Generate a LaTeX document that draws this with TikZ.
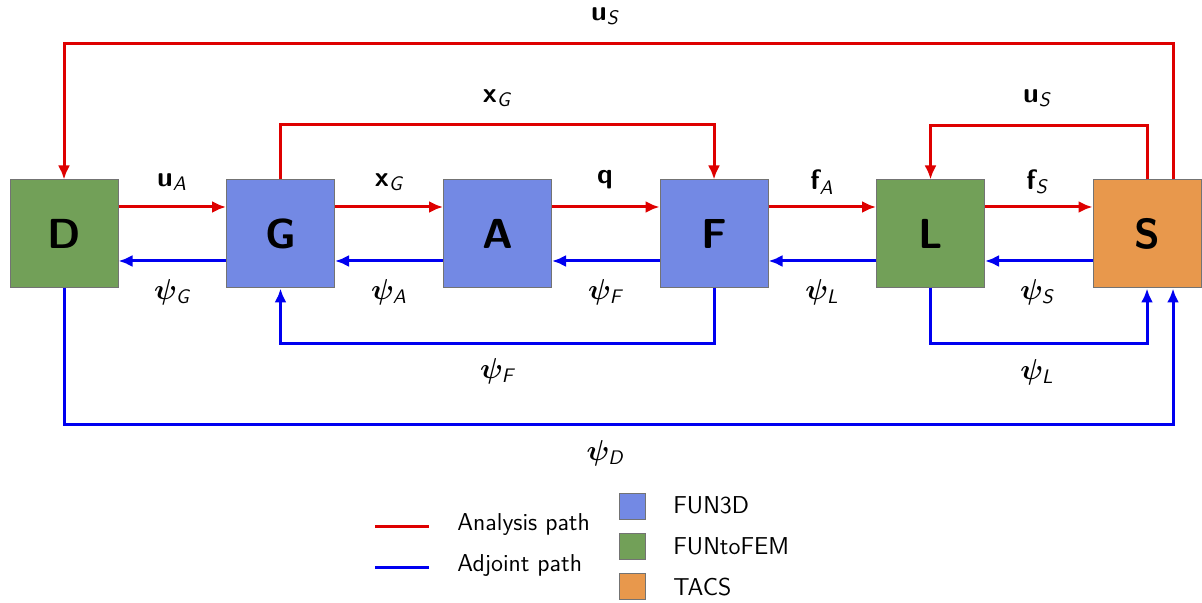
\documentclass[tikz,border=0pt]{standalone}
\usepackage{amsmath,bm}
\usetikzlibrary{arrows.meta,calc}
\definecolor{ared}{RGB}{222,0,0}
\definecolor{ablue}{RGB}{0,0,240}
\definecolor{cfun}{RGB}{115,137,228}
\definecolor{cf2f}{RGB}{114,160,88}
\definecolor{ctacs}{RGB}{232,152,76}
\tikzset{
  blk/.style={draw=black!55, line width=0.5pt, minimum width=54pt, minimum height=54pt, inner sep=0pt,
    font=\sffamily\bfseries\fontsize{21}{24}\selectfont},
  ana/.style={draw=ared, line width=1.5pt, -{Latex[length=7pt,width=6pt]}},
  adj/.style={draw=ablue, line width=1.5pt, -{Latex[length=7pt,width=6pt]}},
  lbl/.style={font=\sffamily\fontsize{14}{16}\selectfont, inner sep=0pt},
  leg/.style={font=\sffamily\fontsize{12.2}{14}\selectfont, inner sep=0pt, anchor=west},
  legbox/.style={draw=black!55, line width=0.4pt, minimum width=13pt, minimum height=13pt, inner sep=0pt},
}
\begin{document}
\begin{tikzpicture}[x=0.5pt,y=-0.5pt]
\useasboundingbox (0,0) rectangle (1202,603);
% blocks
\node[blk, fill=cf2f]  (D) at (64,234)   {D};
\node[blk, fill=cfun]  (G) at (280.5,234) {G};
\node[blk, fill=cfun]  (A) at (497.5,234) {A};
\node[blk, fill=cfun]  (F) at (714,234)  {F};
\node[blk, fill=cf2f]  (L) at (930.5,234) {L};
\node[blk, fill=ctacs] (S) at (1147,234) {S};
% forward arrows
\draw[ana] ([yshift=13.5pt]D.east) -- ([yshift=13.5pt]G.west);
\draw[ana] ([yshift=13.5pt]G.east) -- ([yshift=13.5pt]A.west);
\draw[ana] ([yshift=13.5pt]A.east) -- ([yshift=13.5pt]F.west);
\draw[ana] ([yshift=13.5pt]F.east) -- ([yshift=13.5pt]L.west);
\draw[ana] ([yshift=13.5pt]L.east) -- ([yshift=13.5pt]S.west);
% adjoint arrows
\draw[adj] ([yshift=-13.5pt]G.west) -- ([yshift=-13.5pt]D.east);
\draw[adj] ([yshift=-13.5pt]A.west) -- ([yshift=-13.5pt]G.east);
\draw[adj] ([yshift=-13.5pt]F.west) -- ([yshift=-13.5pt]A.east);
\draw[adj] ([yshift=-13.5pt]L.west) -- ([yshift=-13.5pt]F.east);
\draw[adj] ([yshift=-13.5pt]S.west) -- ([yshift=-13.5pt]L.east);
% loops
\draw[ana] ([xshift=13pt]S.north) -- ++(0,-136) -| (D.north);
\draw[ana] (G.north) -- ++(0,-55) -| (F.north);
\draw[ana] (S.north) -- ++(0,-54) -| (L.north);
\draw[adj] (F.south) -- ++(0,55) -| (G.south);
\draw[adj] (L.south) -- ++(0,55) -| (S.south);
\draw[adj] (D.south) -- ++(0,136) -| ([xshift=13pt]S.south);
% labels
\node[lbl] (l1) at (605,16) {$\textbf{u}_{\textit{S}}$};
\node[lbl] (l2) at (497,98) {$\textbf{x}_{\textit{G}}$};
\node[lbl] (l3) at (1037,98) {$\textbf{u}_{\textit{S}}$};
\node[lbl] (l4) at (172,182) {$\textbf{u}_{\textit{A}}$};
\node[lbl] (l5) at (389,182) {$\textbf{x}_{\textit{G}}$};
\node[lbl] (l6) at (605,180) {$\textbf{q}$};
\node[lbl] (l7) at (822,182) {$\textbf{f}_{\textit{A}}$};
\node[lbl] (l8) at (1037,182) {$\textbf{f}_{\textit{S}}$};
\node[lbl] (m1) at (172,292) {$\bm{\psi}_{\textit{G}}$};
\node[lbl] (m2) at (389,292) {$\bm{\psi}_{\textit{A}}$};
\node[lbl] (m3) at (605,292) {$\bm{\psi}_{\textit{F}}$};
\node[lbl] (m4) at (822,292) {$\bm{\psi}_{\textit{L}}$};
\node[lbl] (m5) at (1037,292) {$\bm{\psi}_{\textit{S}}$};
\node[lbl] (m6) at (497,371) {$\bm{\psi}_{\textit{F}}$};
\node[lbl] (m7) at (1037,372) {$\bm{\psi}_{\textit{L}}$};
\node[lbl] (m8) at (605,453) {$\bm{\psi}_{\textit{D}}$};
% legend
\coordinate (ra) at (375,526); \coordinate (rb) at (429,526);
\coordinate (ba) at (375,567); \coordinate (bb) at (429,567);
\draw[draw=ared, line width=1.5pt] (ra) -- (rb);
\draw[draw=ablue, line width=1.5pt] (ba) -- (bb);
\node[leg] (t1) at (457,525) {Analysis path};
\node[leg] (t2) at (457,566) {Adjoint path};
\node[legbox, fill=cfun]  (b1) at (632.5,506) {};
\node[legbox, fill=cf2f]  (b2) at (632.5,546.5) {};
\node[legbox, fill=ctacs] (b3) at (632.5,586.5) {};
\node[leg] (t3) at (673,505) {FUN3D};
\node[leg] (t4) at (673,546) {FUNtoFEM};
\node[leg] (t5) at (673,587) {TACS};
\end{tikzpicture}
\end{document}
